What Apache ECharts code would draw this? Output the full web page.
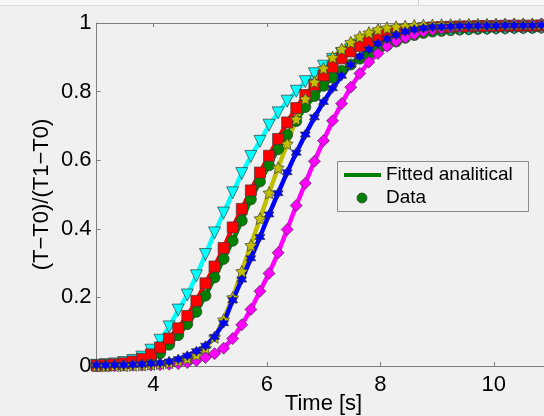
<!DOCTYPE html>
<html>
<head>
<meta charset="utf-8">
<script src="https://cdn.jsdelivr.net/npm/echarts@6/dist/echarts.min.js"></script>
<style>
  html, body { margin: 0; padding: 0; background: #f0f0f0; }
  #chart { width: 544px; height: 416px; }
</style>
</head>
<body>
<div id="chart"></div>
<script>
// Sample times [s], shared by all six measurements
const time = [3.00, 3.16, 3.32, 3.48, 3.64, 3.80, 3.96, 4.12, 4.28, 4.44,
  4.60, 4.76, 4.92, 5.08, 5.24, 5.40, 5.56, 5.72, 5.88, 6.04,
  6.20, 6.36, 6.52, 6.68, 6.84, 7.00, 7.16, 7.32, 7.48, 7.64,
  7.80, 7.96, 8.12, 8.28, 8.44, 8.60, 8.76, 8.92, 9.08, 9.24,
  9.40, 9.56, 9.72, 9.88, 10.04, 10.20, 10.36, 10.52, 10.68, 10.84, 11.00];

// Normalised temperature (T-T0)/(T1-T0) for each measurement
const cyanValues = [0.002, 0.004, 0.006, 0.010, 0.016, 0.026, 0.046, 0.075, 0.114, 0.163,
  0.207, 0.263, 0.325, 0.388, 0.446, 0.505, 0.561, 0.611, 0.655, 0.702,
  0.738, 0.772, 0.801, 0.829, 0.852, 0.874, 0.894, 0.910, 0.922, 0.935,
  0.946, 0.954, 0.961, 0.967, 0.972, 0.975, 0.977, 0.978, 0.979, 0.980,
  0.981, 0.982, 0.983, 0.983, 0.984, 0.984, 0.985, 0.985, 0.986, 0.986, 0.986];

const redValues = [0.002, 0.003, 0.005, 0.008, 0.013, 0.021, 0.034, 0.054, 0.080, 0.110,
  0.146, 0.190, 0.241, 0.290, 0.344, 0.404, 0.458, 0.512, 0.564, 0.613,
  0.662, 0.710, 0.752, 0.790, 0.820, 0.847, 0.872, 0.897, 0.917, 0.933,
  0.946, 0.957, 0.966, 0.973, 0.978, 0.982, 0.985, 0.987, 0.988, 0.989,
  0.990, 0.990, 0.991, 0.991, 0.991, 0.992, 0.992, 0.992, 0.992, 0.993, 0.993];

const greenValues = [0.000, 0.001, 0.002, 0.004, 0.007, 0.012, 0.022, 0.037, 0.062, 0.090,
  0.122, 0.158, 0.205, 0.258, 0.312, 0.365, 0.424, 0.486, 0.538, 0.585,
  0.632, 0.674, 0.714, 0.755, 0.787, 0.817, 0.841, 0.861, 0.879, 0.896,
  0.910, 0.923, 0.935, 0.946, 0.957, 0.965, 0.971, 0.975, 0.977, 0.979,
  0.981, 0.982, 0.983, 0.984, 0.985, 0.985, 0.986, 0.986, 0.986, 0.987, 0.987];

const yellowValues = [0.000, 0.000, 0.001, 0.001, 0.002, 0.003, 0.005, 0.007, 0.010, 0.015,
  0.022, 0.033, 0.052, 0.084, 0.135, 0.200, 0.276, 0.352, 0.430, 0.505,
  0.578, 0.648, 0.720, 0.779, 0.828, 0.868, 0.900, 0.924, 0.944, 0.960,
  0.972, 0.981, 0.986, 0.989, 0.991, 0.993, 0.994, 0.994, 0.995, 0.995,
  0.995, 0.996, 0.996, 0.996, 0.996, 0.997, 0.997, 0.997, 0.997, 0.997, 0.997];

const blueValues = [0.002, 0.002, 0.003, 0.003, 0.004, 0.005, 0.007, 0.009, 0.013, 0.020,
  0.030, 0.043, 0.059, 0.085, 0.125, 0.192, 0.252, 0.314, 0.376, 0.442,
  0.504, 0.565, 0.622, 0.675, 0.725, 0.770, 0.810, 0.846, 0.878, 0.902,
  0.923, 0.940, 0.954, 0.965, 0.975, 0.981, 0.985, 0.988, 0.989, 0.990,
  0.991, 0.991, 0.992, 0.992, 0.992, 0.993, 0.993, 0.993, 0.993, 0.994, 0.994];

const magentaValues = [0.001, 0.001, 0.001, 0.002, 0.002, 0.002, 0.003, 0.004, 0.005, 0.007,
  0.010, 0.016, 0.025, 0.036, 0.052, 0.080, 0.120, 0.165, 0.218, 0.270,
  0.330, 0.398, 0.468, 0.533, 0.597, 0.657, 0.715, 0.765, 0.813, 0.853,
  0.886, 0.911, 0.932, 0.947, 0.958, 0.967, 0.975, 0.981, 0.985, 0.988,
  0.990, 0.992, 0.993, 0.994, 0.995, 0.995, 0.996, 0.996, 0.996, 0.997, 0.997];

const xTicks = [4, 6, 8, 10];
const legendLabels = ['Fitted analitical', 'Data'];

// Marker outlines
const pentagram = 'path://M0,-10 L2.94,-4.05 9.51,-3.09 4.76,1.55 5.88,8.09 0,5 -5.88,8.09 -4.76,1.55 -9.51,-3.09 -2.94,-4.05Z';
const hexagram = 'path://M0,-10 L2.89,-5 8.66,-5 5.77,0 8.66,5 2.89,5 0,10 -2.89,5 -8.66,5 -5.77,0 -8.66,-5 -2.89,-5Z';

const FONT = 'Liberation Sans';
const AXIS_GREY = '#7d7d7d';

function curve(name, values, color, symbol, size, rotate) {
  return {
    name: name,
    type: 'line',
    data: time.map((t, i) => [t, values[i]]),
    symbol: symbol,
    symbolSize: size,
    symbolRotate: rotate || 0,
    showAllSymbol: true,
    lineStyle: { color: color, width: 4.5 },
    itemStyle: { color: color, borderColor: '#3a3a3a', borderWidth: 0.7 },
    emphasis: { disabled: true },
    animation: false,
    z: 2
  };
}

const chart = echarts.init(document.getElementById('chart'), null, { renderer: 'canvas' });

chart.setOption({
  backgroundColor: '#f0f0f0',
  animation: false,
  grid: { left: 96.5, right: -6.5, top: 23, bottom: 50, containLabel: false, outerBoundsMode: 'none' },
  xAxis: [{
    type: 'value',
    min: 3,
    max: 11,
    name: 'Time [s]',
    nameLocation: 'middle',
    nameGap: 27,
    nameMoveOverlap: false,
    nameTextStyle: { color: '#000', fontSize: 22, fontFamily: FONT, verticalAlign: 'top' },
    axisLine: { lineStyle: { color: AXIS_GREY, width: 1 } },
    axisTick: { inside: true, length: 4, customValues: xTicks, lineStyle: { color: AXIS_GREY } },
    axisLabel: { customValues: xTicks, color: '#000', fontSize: 22, fontFamily: FONT, margin: 8 },
    splitLine: { show: false }
  }, {
    type: 'value',
    position: 'top',
    min: 3,
    max: 11,
    axisLine: { show: true, lineStyle: { color: AXIS_GREY, width: 1 } },
    axisTick: { inside: true, length: 4, customValues: xTicks, lineStyle: { color: AXIS_GREY } },
    axisLabel: { show: false },
    splitLine: { show: false }
  }],
  yAxis: {
    type: 'value',
    min: 0,
    max: 1,
    interval: 0.2,
    name: '(T\u2212T0)/(T1\u2212T0)',
    nameLocation: 'middle',
    nameRotate: 90,
    nameGap: 44,
    nameMoveOverlap: false,
    nameTextStyle: { color: '#000', fontSize: 22, fontFamily: FONT },
    axisLine: { show: true, lineStyle: { color: AXIS_GREY, width: 1 } },
    axisTick: { show: true, inside: true, length: 4, lineStyle: { color: AXIS_GREY } },
    axisLabel: { color: '#000', fontSize: 22, fontFamily: FONT, margin: 5 },
    splitLine: { show: false }
  },
  series: [
    curve('green', greenValues, '#008000', 'circle', 11),
    curve('cyan', cyanValues, '#00ffff', 'triangle', 12, 180),
    curve('red', redValues, '#ff0000', 'rect', 11),
    curve('magenta', magentaValues, '#ff00ff', 'diamond', 12),
    curve('yellow', yellowValues, '#bfbf00', pentagram, 12),
    curve('blue', blueValues, '#0000ff', hexagram, 10)
  ],
  graphic: [
    // window strip along the top edge
    { type: 'rect', shape: { x: 0, y: 0, width: 544, height: 5 }, style: { fill: '#f7f7f7' }, silent: true },
    { type: 'line', shape: { x1: 0, y1: 5.5, x2: 544, y2: 5.5 }, style: { stroke: '#dadada', lineWidth: 1 }, silent: true },
    { type: 'line', shape: { x1: 418.5, y1: 0, x2: 418.5, y2: 5 }, style: { stroke: '#d0d0d0', lineWidth: 1 }, silent: true },
    // legend box
    {
      type: 'group',
      z: 10,
      children: [
        { type: 'rect', shape: { x: 337.5, y: 161.5, width: 191, height: 50 }, style: { fill: '#f0f0f0', stroke: '#8a8a8a', lineWidth: 1 } },
        { type: 'line', shape: { x1: 344, y1: 175, x2: 381, y2: 175 }, style: { stroke: '#008000', lineWidth: 4 } },
        { type: 'circle', shape: { cx: 362, cy: 198, r: 5 }, style: { fill: '#008000', stroke: '#3a3a3a', lineWidth: 0.7 } },
        { type: 'text', x: 386, y: 175, style: { text: legendLabels[0], fill: '#000', font: '19px "Liberation Sans"', textVerticalAlign: 'middle' } },
        { type: 'text', x: 386, y: 198, style: { text: legendLabels[1], fill: '#000', font: '19px "Liberation Sans"', textVerticalAlign: 'middle' } }
      ]
    }
  ]
});
</script>
</body>
</html>
